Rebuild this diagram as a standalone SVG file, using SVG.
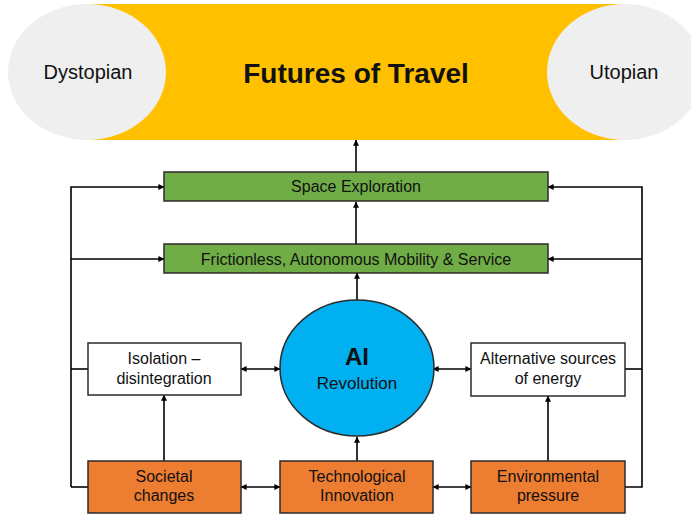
<svg xmlns="http://www.w3.org/2000/svg" width="691" height="514" viewBox="0 0 691 514">
<defs>
<marker id="ah" viewBox="0 0 8 8" refX="7.5" refY="4" markerWidth="6" markerHeight="6" orient="auto-start-reverse" markerUnits="userSpaceOnUse">
<path d="M0,0 L8,4 L0,8 z" fill="#000"/>
</marker>
<style>
text{font-family:"Liberation Sans",Arial,sans-serif;fill:#111;text-anchor:middle}
.t{font-size:16px}
.green{fill:#70AD47;stroke:#2b2b2b;stroke-width:1.5}
.orange{fill:#ED7D31;stroke:#2b2b2b;stroke-width:1.5}
.white{fill:#fff;stroke:#2b2b2b;stroke-width:1.5}
.ln{fill:none;stroke:#000;stroke-width:1.6}
.ar{marker-end:url(#ah)}
.dar{marker-start:url(#ah);marker-end:url(#ah)}
</style>
</defs>
<g id="futures">
<rect x="90" y="4" width="530" height="136" fill="#FFC000"/>
<text x="356" y="83" style="font-size:28px;font-weight:bold">Futures of Travel</text>
</g>
<g id="dystopian">
<ellipse cx="87" cy="72" rx="79" ry="68" fill="#EFEFEF"/>
<text x="88" y="79" style="font-size:20px">Dystopian</text>
</g>
<g id="utopian">
<ellipse cx="625" cy="72" rx="78" ry="68" fill="#EFEFEF"/>
<text x="624" y="79" style="font-size:20px">Utopian</text>
</g>
<g id="connectors">
<path class="ln ar" d="M356,172 V140"/>
<path class="ln ar" d="M356,244 V202"/>
<path class="ln ar" d="M357,300 V273"/>
<path class="ln ar" d="M71,487 V187 H164"/>
<path class="ln ar" d="M71,259 H164"/>
<path class="ln" d="M88,487 H71"/>
<path class="ln" d="M88,369 H71"/>
<path class="ln ar" d="M625,487 H642 V187 H548"/>
<path class="ln ar" d="M642,259 H548"/>
<path class="ln" d="M625,369 H642"/>
<path class="ln dar" d="M241,369 H280"/>
<path class="ln dar" d="M433,369 H471"/>
<path class="ln dar" d="M241,487 H280"/>
<path class="ln dar" d="M433,487 H471"/>
<path class="ln ar" d="M164,461 V395"/>
<path class="ln ar" d="M357,461 V437"/>
<path class="ln ar" d="M548,461 V396"/>
</g>
<g id="space">
<rect class="green" x="164" y="172" width="384" height="29"/>
<text class="t" x="356" y="192">Space Exploration</text>
</g>
<g id="frictionless">
<rect class="green" x="164" y="244" width="384" height="29"/>
<text class="t" x="356" y="265">Frictionless, Autonomous Mobility &amp; Service</text>
</g>
<g id="ai">
<ellipse cx="357" cy="368" rx="77" ry="68" fill="#00B0F0" stroke="#2b2b2b" stroke-width="1.5"/>
<text x="357" y="365" style="font-size:24px;font-weight:bold">AI</text>
<text x="357" y="389" style="font-size:17px">Revolution</text>
</g>
<g id="isolation">
<rect class="white" x="88" y="343" width="153" height="52"/>
<text class="t" x="164" y="364">Isolation –</text>
<text class="t" x="164" y="384">disintegration</text>
</g>
<g id="alternative">
<rect class="white" x="471" y="343" width="154" height="53"/>
<text class="t" x="548" y="364">Alternative sources</text>
<text class="t" x="548" y="384">of energy</text>
</g>
<g id="societal">
<rect class="orange" x="88" y="461" width="153" height="52"/>
<text class="t" x="164" y="482">Societal</text>
<text class="t" x="164" y="501">changes</text>
</g>
<g id="technological">
<rect class="orange" x="280" y="461" width="153" height="52"/>
<text class="t" x="357" y="482">Technological</text>
<text class="t" x="357" y="501">Innovation</text>
</g>
<g id="environmental">
<rect class="orange" x="471" y="461" width="154" height="52"/>
<text class="t" x="548" y="482">Environmental</text>
<text class="t" x="548" y="501">pressure</text>
</g>
</svg>
